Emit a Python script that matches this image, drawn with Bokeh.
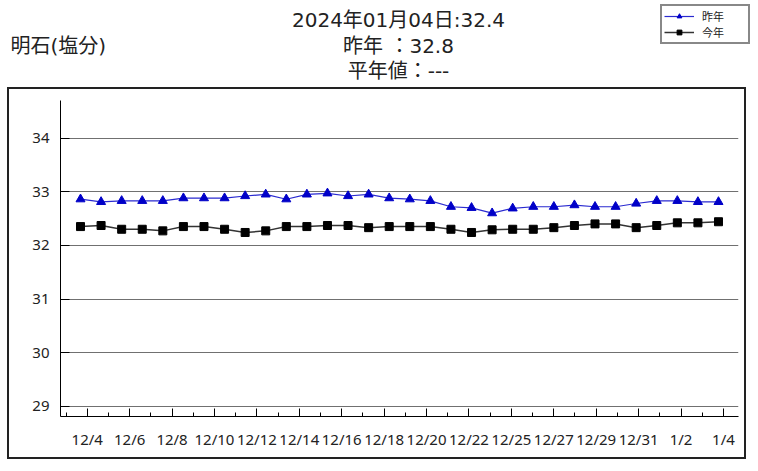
import numpy as np
from bokeh.plotting import figure
from bokeh.layouts import column
from bokeh.models import FixedTicker, Label, Legend, LegendItem
from bokeh.embed import file_html
from bokeh.resources import INLINE

# ---- data ----
dates = ["12/4", "12/5", "12/6", "12/7", "12/8", "12/9", "12/10", "12/11", "12/12", "12/13",
         "12/14", "12/15", "12/16", "12/17", "12/18", "12/19", "12/20", "12/21", "12/22", "12/23",
         "12/24", "12/25", "12/26", "12/27", "12/28", "12/29", "12/30", "12/31", "1/1", "1/2",
         "1/3", "1/4"]
last_year = [32.86, 32.81, 32.83, 32.83, 32.83, 32.88, 32.88, 32.88, 32.92, 32.95,
             32.86, 32.95, 32.97, 32.92, 32.95, 32.88, 32.86, 32.83, 32.72, 32.70,
             32.60, 32.69, 32.72, 32.72, 32.75, 32.72, 32.72, 32.78, 32.83, 32.83,
             32.81, 32.81]
this_year = [32.35, 32.37, 32.30, 32.30, 32.27, 32.35, 32.35, 32.30, 32.24, 32.27,
             32.35, 32.35, 32.37, 32.37, 32.33, 32.35, 32.35, 32.35, 32.30, 32.24,
             32.29, 32.30, 32.30, 32.33, 32.37, 32.40, 32.40, 32.33, 32.37, 32.42,
             32.42, 32.44]
tick_labels = ["12/4", "12/6", "12/8", "12/10", "12/12", "12/14", "12/16", "12/18", "12/20",
               "12/22", "12/25", "12/27", "12/29", "12/31", "1/2", "1/4"]
y_ticks = [29, 30, 31, 32, 33, 34]
station = "明石(塩分)"
title_lines = ["2024年01月04日:32.4", "昨年 ：32.8", "平年値：---"]
series_names = ["昨年", "今年"]

BLUE_LINE, BLUE_MARK = "#2a2ad0", "#0000c8"
BLACK_LINE = "#333333"
TITLE_FONT = "DejaVu Sans, Noto Sans CJK JP"
HEADER_H = 85

# ---------------- header (titles + legend) ----------------
header = figure(width=750, height=HEADER_H, x_range=(0, 750), y_range=(HEADER_H, 0),
                x_axis_type=None, y_axis_type=None, output_backend="svg",
                toolbar_location=None, min_border=0, outline_line_color=None,
                background_fill_color="white", border_fill_color="white",
                frame_align=False)

header.add_layout(Label(x=10, y=45, text=station, text_font=TITLE_FONT,
                        text_font_size="20px", text_color="#222222",
                        text_align="left", text_baseline="middle"))
for t, yy in zip(title_lines, [19, 45, 70]):
    header.add_layout(Label(x=398, y=yy, text=t, text_font=TITLE_FONT,
                            text_font_size="20px", text_color="#222222",
                            text_align="center", text_baseline="middle"))

# legend glyph stand-ins (same styling as the chart series; no visible marks)
nan = [float("nan")]
hl1 = header.line(nan, nan, line_color=BLUE_LINE, line_width=1.2)
hm1 = header.scatter(nan, nan, marker="triangle", size=9, fill_color=BLUE_MARK, line_color=BLUE_MARK)
hl2 = header.line(nan, nan, line_color=BLACK_LINE, line_width=1.5)
hm2 = header.scatter(nan, nan, marker="square", size=8, fill_color="black", line_color="black")
legend = Legend(items=[LegendItem(label=series_names[0], renderers=[hl1, hm1]),
                       LegendItem(label=series_names[1], renderers=[hl2, hm2])],
                location=(660, HEADER_H - 44), orientation="vertical",
                label_text_font="Noto Sans CJK JP", label_text_font_size="11px",
                label_text_line_height=1.0,
                label_text_color="#222222", label_standoff=8, label_width=44,
                glyph_width=30, glyph_height=12, label_height=12,
                spacing=0, padding=2, margin=0,
                border_line_color="#111111", border_line_width=2,
                background_fill_color="white", background_fill_alpha=1)
header.add_layout(legend, "center")

# ---------------- chart ----------------
x = np.arange(len(dates))

p = figure(width=739, height=372, x_range=(-0.972, 31.972), y_range=(28.81, 34.70),
           output_backend="svg", toolbar_location=None,
           min_border_left=51, min_border_right=10, min_border_top=11, min_border_bottom=45,
           background_fill_color="white", border_fill_color="white",
           margin=(87 - HEADER_H, 0, 0, 7), styles={"border": "2px solid #222222"},
           frame_align=False)
p.outline_line_color = None
p.xgrid.visible = False

# y axis
p.yaxis.ticker = FixedTicker(ticks=y_ticks)
p.yaxis.major_tick_in = 9
p.yaxis.major_tick_out = 0
p.yaxis.minor_tick_in = 0
p.yaxis.minor_tick_out = 0
p.yaxis.axis_line_color = "black"
p.yaxis.major_tick_line_color = "black"
p.yaxis.major_label_text_font = "Noto Sans"
p.yaxis.major_label_text_font_size = "15px"
p.yaxis.major_label_text_color = "#222222"
p.yaxis.major_label_standoff = 11
p.ygrid.ticker = FixedTicker(ticks=y_ticks)
p.ygrid.grid_line_color = "#707070"
p.ygrid.grid_line_width = 1

# x axis (evenly spaced label ticks as in the original)
n = len(tick_labels)
step = 1.0305
major = [0.326 + 2 * step * j for j in range(n)]
minor = [0.326 - step + 2 * step * j for j in range(n)]
p.xaxis.ticker = FixedTicker(ticks=major, minor_ticks=minor)
p.xaxis.major_label_overrides = {m: lab for m, lab in zip(major, tick_labels)}
p.xaxis.major_tick_in = 8
p.xaxis.major_tick_out = 0
p.xaxis.minor_tick_in = 4
p.xaxis.minor_tick_out = 0
p.xaxis.axis_line_color = "black"
p.xaxis.major_tick_line_color = "black"
p.xaxis.minor_tick_line_color = "black"
p.xaxis.major_label_text_font = "Noto Sans"
p.xaxis.major_label_text_font_size = "15px"
p.xaxis.major_label_text_color = "#222222"
p.xaxis.major_label_standoff = 12

# series
p.line(x, last_year, line_color=BLUE_LINE, line_width=1.2)
p.scatter(x, last_year, marker="triangle", size=9, fill_color=BLUE_MARK, line_color=BLUE_MARK)
p.line(x, this_year, line_color=BLACK_LINE, line_width=1.5)
p.scatter(x, this_year, marker="square", size=8, fill_color="black", line_color="black")

layout = column(header, p, spacing=0)
open("out.html", "w").write(file_html(layout, INLINE))
